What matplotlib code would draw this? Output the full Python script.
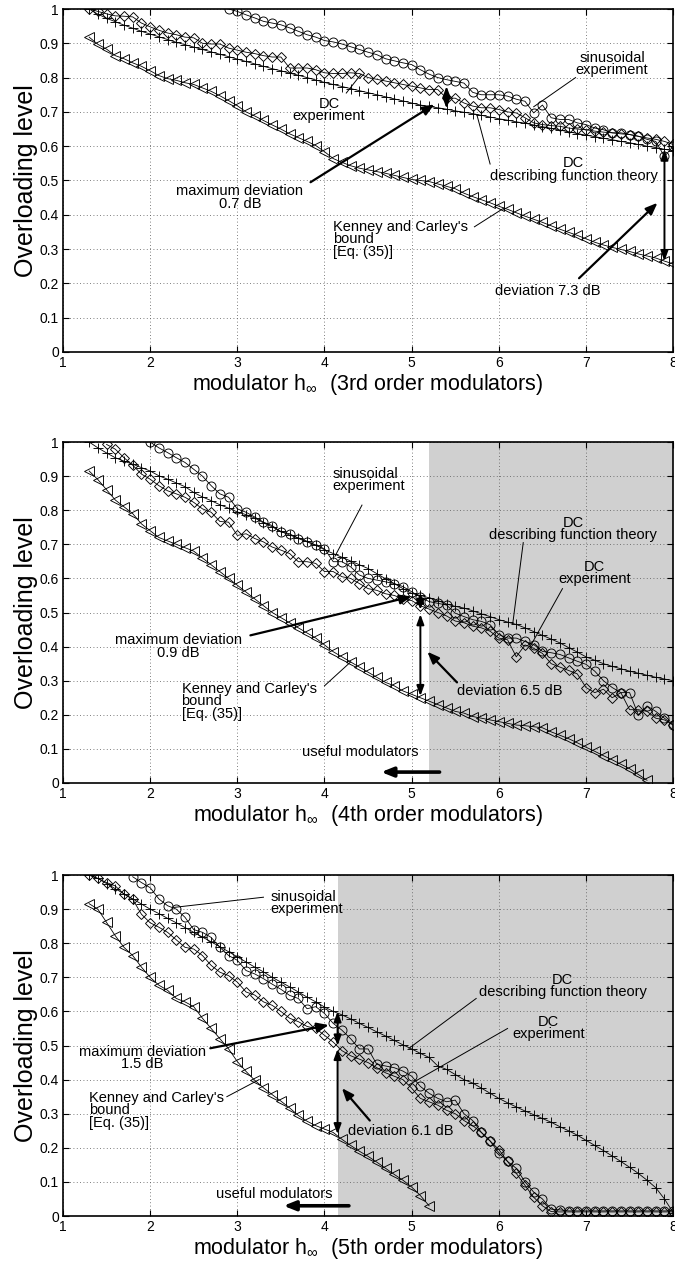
import numpy as np
import matplotlib
matplotlib.use("Agg")
import matplotlib.pyplot as plt

plt.rcParams['font.family'] = ['Liberation Sans', 'DejaVu Sans']
plt.rcParams['mathtext.fontset'] = 'custom'
plt.rcParams['mathtext.rm'] = 'Liberation Sans'
plt.rcParams['mathtext.it'] = 'Liberation Sans'

# ---------------- data (x sampled every 0.1 from the given start) ----------------
# 3rd order
top_theory_x0 = 1.3
top_theory = [1.0, .985, .973, .963, .953, .944, .935, .927, .919, .911, .903, .896, .889, .882,
              .875, .868, .861, .854, .847, .84, .833, .826, .82, .813, .807, .80, .793, .786,
              .78, .774, .768, .762, .756, .75, .744, .738, .732, .726, .72, .716, .712, .708,
              .703, .699, .695, .69, .685, .68, .676, .671, .667, .662, .657, .652, .647, .642,
              .637, .632, .628, .623, .619, .614, .61, .605, .60, .596, .591, .587]
top_bound_x0 = 1.3
top_bound = [.918, .897, .883, .864, .855, .843, .833, .82, .806, .797, .792, .785, .78, .77,
             .76, .747, .733, .718, .70, .688, .675, .662, .65, .636, .625, .614, .602, .584,
             .564, .553, .543, .536, .531, .526, .521, .515, .509, .503, .50, .497, .49, .483,
             .476, .463, .453, .444, .435, .425, .416, .406, .396, .387, .378, .368, .358, .349,
             .34, .33, .32, .312, .305, .299, .293, .286, .28, .274, .265, .257]
top_dc_x0 = 1.3
top_dc = [1.0, .993, .986, .98, .979, .977, .959, .948, .938, .93, .925, .918, .916, .90,
          .898, .898, .886, .88, .874, .87, .864, .86, .86, .828, .828, .828, .823, .814,
          .812, .812, .814, .812, .80, .795, .79, .785, .78, .775, .77, .765, .765, .74,
          .74, .726, .717, .712, .712, .707, .70, .697, .683, .668, .663, .66, .658, .653,
          .65, .648, .644, .641, .639, .636, .634, .629, .624, .62, .614, .605]
top_sin_x0 = 2.9
top_sin = [1.0, .993, .983, .974, .964, .959, .954, .945, .935, .925, .918, .908, .904, .898,
           .89, .882, .874, .867, .855, .849, .843, .838, .823, .81, .80, .794, .789, .784,
           .757, .75, .75, .75, .746, .737, .731, .697, .72, .683, .678, .678, .668, .663,
           .653, .648, .639, .639, .634, .629, .62, .614, .57, .60]

# 4th order
mid_theory_x0 = 1.3
mid_theory = [1.0, .983, .968, .954, .944, .935, .925, .915, .901, .891, .88, .869, .852, .839,
              .828, .816, .806, .795, .787, .777, .763, .751, .738, .727, .719, .709, .698, .684,
              .673, .662, .651, .64, .629, .614, .599, .585, .57, .556, .55, .543, .535, .525,
              .518, .513, .505, .496, .488, .479, .472, .465, .455, .444, .433, .422, .411, .397,
              .384, .37, .36, .35, .342, .335, .328, .322, .316, .31, .305, .30]
mid_bound_x0 = 1.3
mid_bound = [.915, .89, .86, .83, .81, .79, .76, .74, .72, .71, .70, .69, .68, .66,
             .64, .62, .60, .58, .56, .54, .52, .50, .485, .47, .455, .44, .425, .405,
             .385, .37, .355, .34, .325, .31, .295, .285, .27, .26, .25, .24, .23, .22,
             .21, .205, .195, .19, .185, .18, .175, .17, .168, .165, .162, .15, .14, .13,
             .118, .105, .093, .08, .068, .055, .042, .025, .008]
mid_dc_x0 = 1.5
mid_dc = [.993, .979, .954, .932, .906, .891, .872, .857, .848, .838, .823, .804, .794, .767,
          .765, .726, .731, .717, .707, .692, .683, .673, .649, .649, .644, .62, .62, .605,
          .60, .585, .57, .565, .555, .55, .54, .535, .52, .51, .50, .49, .475, .47,
          .46, .455, .445, .425, .42, .37, .405, .395, .38, .35, .34, .33, .32, .28,
          .265, .275, .25, .265, .215, .215, .21, .19, .185, .17]
mid_sin_x0 = 2.0
mid_sin = [1.0, .983, .969, .954, .94, .92, .90, .872, .848, .838, .804, .794, .78, .765,
           .755, .736, .731, .717, .707, .697, .687, .649, .649, .634, .61, .60, .595, .59,
           .585, .576, .561, .545, .532, .527, .522, .498, .488, .479, .474, .464, .435, .425,
           .425, .415, .406, .386, .382, .377, .367, .357, .348, .328, .30, .28, .265, .265,
           .20, .226, .21, .19, .17]

# 5th order
bot_theory_x0 = 1.3
bot_theory = [1.0, .99, .975, .96, .945, .93, .915, .90, .887, .873, .86, .846, .832, .818,
              .804, .79, .775, .76, .745, .73, .716, .70, .686, .672, .657, .642, .628, .613,
              .60, .59, .578, .565, .553, .54, .528, .515, .502, .49, .477, .465, .44, .43,
              .415, .40, .39, .375, .36, .345, .332, .32, .308, .297, .286, .275, .262, .25,
              .237, .222, .207, .192, .176, .16, .143, .125, .105, .083, .05, .01]
bot_bound_x0 = 1.3
bot_bound = [.916, .90, .861, .822, .788, .764, .73, .70, .677, .662, .638, .628, .614, .58,
             .55, .52, .49, .453, .424, .398, .376, .356, .337, .317, .295, .278, .265, .255,
             .245, .225, .207, .19, .175, .158, .14, .122, .105, .085, .06, .03]
bot_dc_x0 = 1.3
bot_dc = [1.0, .99, .978, .968, .944, .929, .885, .86, .847, .832, .81, .788, .783, .764,
          .735, .715, .705, .686, .657, .648, .628, .618, .60, .58, .57, .556, .55, .53,
          .51, .485, .47, .46, .45, .435, .42, .41, .40, .375, .345, .335, .325, .31,
          .30, .28, .265, .245, .22, .195, .16, .125, .09, .055, .03, .013, .012, .012,
          .012, .012, .012, .012, .012, .012, .012, .012, .012, .012, .012, .012]
bot_sin_x0 = 1.8
bot_sin = [.995, .978, .963, .93, .91, .90, .876, .84, .832, .817, .788, .764, .75, .72,
           .71, .696, .68, .665, .647, .638, .608, .614, .594, .565, .545, .52, .49, .49,
           .445, .44, .435, .425, .41, .38, .36, .345, .335, .34, .30, .28, .245, .22,
           .185, .16, .14, .10, .07, .05, .02, .018, .015, .015, .015, .015, .015, .015,
           .015, .015, .015, .015, .015, .015, .015]

xticks = [1, 2, 3, 4, 5, 6, 7, 8]
yticks = [0, 0.1, 0.2, 0.3, 0.4, 0.5, 0.6, 0.7, 0.8, 0.9, 1]
ytick_labels = ['0', '0.1', '0.2', '0.3', '0.4', '0.5', '0.6', '0.7', '0.8', '0.9', '1']
orders = ['3rd', '4th', '5th']
shade_from = [None, 5.2, 4.15]

# ---------------- figure ----------------
fig = plt.figure(figsize=(6.75, 12.68), dpi=100)
rects = [[0.0933, 0.7224, 0.904, 0.2705],
         [0.0933, 0.3825, 0.904, 0.2689],
         [0.0933, 0.0410, 0.904, 0.2689]]
axes = [fig.add_axes(r) for r in rects]

TFS = 10.5


def grid_x(x0, y):
    return np.round(x0 + 0.1 * np.arange(len(y)), 2)


def series(ax, x0, y, marker, ms):
    ax.plot(grid_x(x0, y), y, '-', color='k', lw=0.6, marker=marker, ms=ms,
            mfc='none', mec='k', mew=0.65, zorder=3)


def pointer(ax, p0, p1):
    ax.plot([p0[0], p1[0]], [p0[1], p1[1]], color='k', lw=0.7, zorder=4)


def arrow(ax, tail, head, lw=1.6):
    ax.annotate('', xy=head, xytext=tail,
                arrowprops=dict(arrowstyle='-|>,head_length=0.7,head_width=0.28',
                                color='k', lw=lw, shrinkA=0, shrinkB=0), zorder=5)


def darrow(ax, x, y0, y1):
    ax.annotate('', xy=(x, y1), xytext=(x, y0),
                arrowprops=dict(arrowstyle='<|-|>,head_length=0.6,head_width=0.22',
                                color='k', lw=1.4, shrinkA=0, shrinkB=0), zorder=5)


def label(ax, x, y, s, ha='center'):
    ax.text(x, y, s, ha=ha, va='center', multialignment=ha if ha != 'center' else 'center',
            fontsize=TFS, linespacing=0.85, zorder=6)


data = [
    (top_theory_x0, top_theory, top_bound_x0, top_bound, top_dc_x0, top_dc, top_sin_x0, top_sin),
    (mid_theory_x0, mid_theory, mid_bound_x0, mid_bound, mid_dc_x0, mid_dc, mid_sin_x0, mid_sin),
    (bot_theory_x0, bot_theory, bot_bound_x0, bot_bound, bot_dc_x0, bot_dc, bot_sin_x0, bot_sin),
]

for i, ax in enumerate(axes):
    tx0, ty, bx0, by, dx0, dy, sx0, sy = data[i]
    ax.set_xlim(1, 8)
    ax.set_ylim(0, 1)
    if shade_from[i] is not None:
        ax.axvspan(shade_from[i], 8, color='#d0d0d0', zorder=0.5, lw=0)
    ax.grid(True, linestyle=(0, (1, 3)), color='#555555', lw=0.6)
    series(ax, tx0, ty, '+', 7)
    series(ax, bx0, by, '<', 6.5)
    series(ax, dx0, dy, 'D', 5.5)
    series(ax, sx0, sy, 'o', 6.5)
    ax.set_xticks(xticks)
    ax.set_yticks(yticks)
    ax.set_yticklabels(ytick_labels)
    ax.tick_params(direction='in', top=True, right=True, length=4, width=0.8,
                   labelsize=10, pad=3)
    for s in ax.spines.values():
        s.set_linewidth(1.2)
    ax.set_ylabel('Overloading level', fontsize=18, labelpad=1)
    ax.set_xlabel('modulator h$_{\\infty}$  (%s order modulators)' % orders[i],
                  fontsize=15.5, labelpad=1)

# ---- 3rd order annotations
ax = axes[0]
label(ax, 7.3, 0.84, 'sinusoidal\nexperiment')
pointer(ax, (6.88, 0.80), (6.4, 0.715))
label(ax, 4.05, 0.705, 'DC\nexperiment')
pointer(ax, (4.25, 0.755), (4.42, 0.81))
label(ax, 6.86, 0.532, 'DC\ndescribing function theory')
pointer(ax, (5.9, 0.548), (5.75, 0.69))
label(ax, 3.03, 0.45, 'maximum deviation\n0.7 dB')
arrow(ax, (3.84, 0.495), (5.26, 0.722))
darrow(ax, 5.4, 0.71, 0.775)
label(ax, 4.1, 0.328, "Kenney and Carley's\nbound\n[Eq. (35)]", ha='left')
pointer(ax, (5.72, 0.365), (6.06, 0.42))
label(ax, 6.56, 0.178, 'deviation 7.3 dB')
arrow(ax, (6.92, 0.215), (7.82, 0.435))
darrow(ax, 7.9, 0.59, 0.265)

# ---- 4th order annotations
ax = axes[1]
label(ax, 4.09, 0.888, 'sinusoidal\nexperiment', ha='left')
pointer(ax, (4.43, 0.815), (4.12, 0.665))
label(ax, 6.85, 0.745, 'DC\ndescribing function theory')
pointer(ax, (6.28, 0.705), (6.16, 0.468))
label(ax, 7.1, 0.615, 'DC\nexperiment')
pointer(ax, (6.73, 0.57), (6.37, 0.405))
label(ax, 2.32, 0.40, 'maximum deviation\n0.9 dB')
arrow(ax, (3.15, 0.433), (5.0, 0.547))
darrow(ax, 5.1, 0.508, 0.558)
darrow(ax, 5.1, 0.255, 0.495)
label(ax, 6.12, 0.27, 'deviation 6.5 dB')
arrow(ax, (5.52, 0.295), (5.18, 0.385))
label(ax, 2.36, 0.24, "Kenney and Carley's\nbound\n[Eq. (35)]", ha='left')
pointer(ax, (4.0, 0.285), (4.3, 0.355))
label(ax, 4.41, 0.09, 'useful modulators')
arrow(ax, (5.32, 0.032), (4.65, 0.032), lw=2.6)

# ---- 5th order annotations
ax = axes[2]
label(ax, 3.38, 0.918, 'sinusoidal\nexperiment', ha='left')
pointer(ax, (3.3, 0.935), (2.27, 0.905))
label(ax, 6.73, 0.675, 'DC\ndescribing function theory')
pointer(ax, (5.74, 0.638), (4.97, 0.492))
label(ax, 6.57, 0.552, 'DC\nexperiment')
pointer(ax, (6.1, 0.55), (4.97, 0.385))
label(ax, 1.91, 0.463, 'maximum deviation\n1.5 dB')
arrow(ax, (2.69, 0.492), (4.05, 0.56))
darrow(ax, 4.15, 0.50, 0.60)
darrow(ax, 4.15, 0.24, 0.49)
label(ax, 4.88, 0.25, 'deviation 6.1 dB')
arrow(ax, (4.52, 0.28), (4.2, 0.375))
label(ax, 1.3, 0.31, "Kenney and Carley's\nbound\n[Eq. (35)]", ha='left')
pointer(ax, (2.88, 0.35), (3.25, 0.40))
label(ax, 3.42, 0.066, 'useful modulators')
arrow(ax, (4.28, 0.03), (3.53, 0.03), lw=2.6)

fig.savefig('out.png', dpi=100)
